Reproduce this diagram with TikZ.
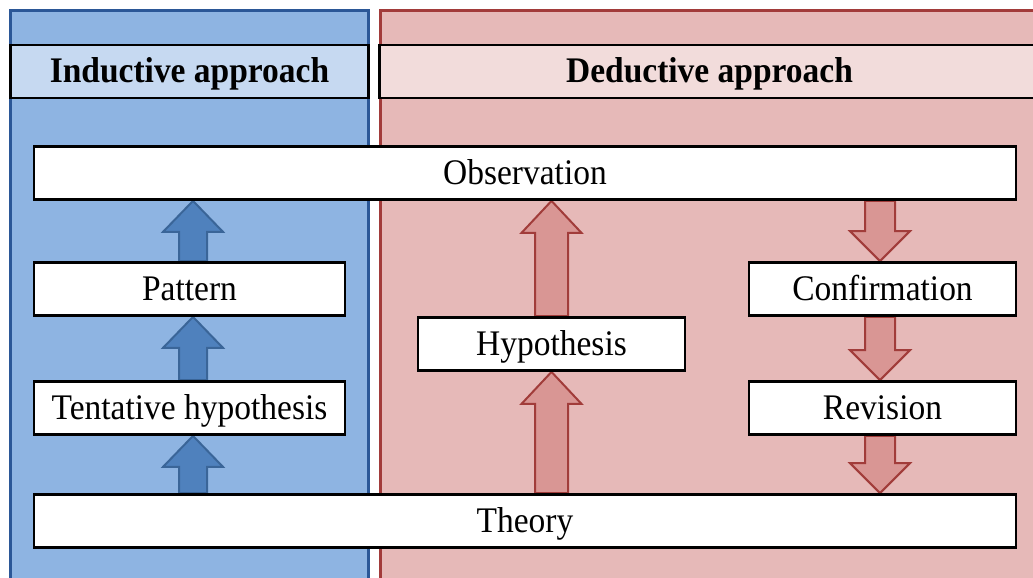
\documentclass[tikz,border=0pt]{standalone}
\usepackage{fontspec}
\usepackage{graphicx}
\setmainfont{Liberation Serif}
\usetikzlibrary{calc}

\definecolor{indpanel}{HTML}{8EB4E2}
\definecolor{indedge}{HTML}{2B5797}
\definecolor{indhead}{HTML}{C6D9F1}
\definecolor{indarrow}{HTML}{4F81BD}
\definecolor{indarrowedge}{HTML}{3A6598}
\definecolor{dedpanel}{HTML}{E6B9B8}
\definecolor{dededge}{HTML}{A23B3A}
\definecolor{dedhead}{HTML}{F2DCDB}
\definecolor{dedarrow}{HTML}{D99694}
\definecolor{dedarrowedge}{HTML}{A13C3A}

\pgfdeclarelayer{back}
\pgfsetlayers{back,main}

% slightly condensed lettering
\newcommand\cond[1]{\scalebox{0.93}[1]{#1}}

% block arrow from base point #2 to tip #3
% #4 head width, #5 shaft width, #6 head length
\newcommand\blockarr[6]{%
  \path[#1] let \p1=(#2), \p2=(#3), \n1={sign(\y2-\y1)} in
    (\x1-#5/2,\y1) -- (\x1-#5/2,\y2-\n1*#6) -- (\x1-#4/2,\y2-\n1*#6) --
    (\x2,\y2) -- (\x1+#4/2,\y2-\n1*#6) -- (\x1+#5/2,\y2-\n1*#6) --
    (\x1+#5/2,\y1) -- cycle;}

\tikzset{
  box/.style={draw=black, line width=2.8pt, fill=white, inner sep=0pt,
    minimum height=53pt, text height=25pt, text depth=3pt,
    font=\fontsize{36}{40}\selectfont},
  header/.style={draw=black, line width=2.8pt, inner sep=0pt,
    minimum height=53pt, text height=25pt, text depth=3pt,
    font=\fontsize{36}{40}\selectfont\bfseries},
  panel/.style={line width=3pt},
  indarr/.style={fill=indarrow, draw=indarrowedge, line width=2pt, line join=miter},
  dedarr/.style={fill=dedarrow, draw=dedarrowedge, line width=2pt, line join=miter},
}

\begin{document}
\begin{tikzpicture}[x=1pt, y=-1pt]
  \useasboundingbox (0,0) rectangle (1033,578);
  \clip (0,0) rectangle (1033,578);

  % page ground and the two columns
  \begin{pgfonlayer}{back}
    \fill[white] (0,0) rectangle (1033,578);
    \draw[panel, fill=indpanel, draw=indedge] (10.5,11) rectangle (368.5,600);
    \draw[panel, fill=dedpanel, draw=dededge] (380,11) rectangle (1050,600);
  \end{pgfonlayer}

  % column titles
  \node[header, fill=indhead, minimum width=358pt] (indtitle) at (189.5,71.5) {\cond{Inductive approach}};
  \node[header, fill=dedhead, minimum width=660pt] (dedtitle) at (709.5,71.5) {\cond{Deductive approach}};

  % statements
  \node[box, minimum width=982pt] (obs) at (525,173) {\cond{Observation}};
  \node[box, minimum width=311pt] (pat) at (189.5,289) {\cond{Pattern}};
  \node[box, minimum width=311pt] (tent) at (189.5,408) {\cond{Tentative hypothesis}};
  \node[box, minimum width=267pt] (hyp) at (551.5,344) {\cond{Hypothesis}};
  \node[box, minimum width=267pt] (conf) at (882.5,289) {\cond{Confirmation}};
  \node[box, minimum width=267pt] (rev) at (882.5,408) {\cond{Revision}};
  \node[box, minimum width=982pt] (theo) at (525,521) {\cond{Theory}};

  \coordinate (icol) at (193,0);
  \coordinate (dcol) at (880,0);

  % block arrows behind the boxes
  \begin{pgfonlayer}{back}
    \blockarr{indarr}{theo.north -| icol}{tent.south -| icol}{60pt}{28pt}{31pt}
    \blockarr{indarr}{tent.north -| icol}{pat.south -| icol}{60pt}{28pt}{31pt}
    \blockarr{indarr}{pat.north -| icol}{obs.south -| icol}{60pt}{28pt}{31pt}

    \blockarr{dedarr}{theo.north -| hyp}{hyp.south}{60pt}{33pt}{32pt}
    \blockarr{dedarr}{hyp.north}{obs.south -| hyp}{60pt}{33pt}{32pt}

    \blockarr{dedarr}{obs.south -| dcol}{conf.north -| dcol}{60pt}{30pt}{30pt}
    \blockarr{dedarr}{conf.south -| dcol}{rev.north -| dcol}{60pt}{30pt}{30pt}
    \blockarr{dedarr}{rev.south -| dcol}{theo.north -| dcol}{60pt}{30pt}{30pt}
  \end{pgfonlayer}
\end{tikzpicture}
\end{document}
